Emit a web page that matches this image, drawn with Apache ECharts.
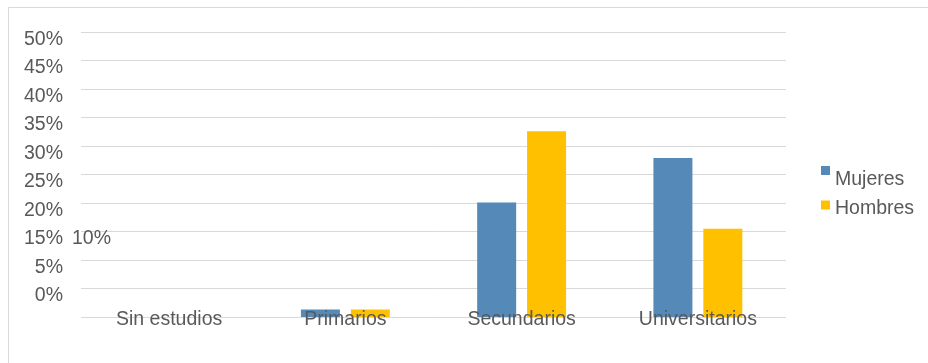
<!DOCTYPE html>
<html>
<head>
<meta charset="utf-8">
<script src="https://cdn.jsdelivr.net/npm/echarts@6/dist/echarts.min.js"></script>
<style>
html,body{margin:0;padding:0;background:#fff;}
#chart{width:928px;height:363px;}
</style>
</head>
<body>
<div id="chart"></div>
<script>
const categories = ['Sin estudios', 'Primarios', 'Secundarios', 'Universitarios'];
const mujeres = [0, 1.3, 20.1, 27.9];
const hombres = [0, 1.3, 32.6, 15.5];
// tick labels as printed in the reference (shifted), keyed by tick value
const yTickValues = [0, 5, 10, 15, 20, 25, 30, 35, 40, 45, 50];
const yTickLabels = ['', '0%', '5%', '15%', '20%', '25%', '30%', '35%', '40%', '45%', '50%'];
const yExtraTickLabels = ['', '', '', '10%', '', '', '', '', '', '', ''];

const FONT = 'Arial, "Liberation Sans", sans-serif';
const TXT = '#595959';

function labelFor(arr) {
  return function (v) {
    const i = yTickValues.indexOf(Math.round(v));
    return i >= 0 ? arr[i] : '';
  };
}

const chart = echarts.init(document.getElementById('chart'), null, {renderer: 'canvas'});
chart.setOption({
  animation: false,
  backgroundColor: '#fff',
  graphic: [{
    type: 'rect', z: -10, silent: true,
    shape: {x: 8.5, y: 7.5, width: 1000, height: 400},
    style: {fill: 'none', stroke: '#d9d9d9', lineWidth: 1}
  }],
  grid: {left: 81, right: 142, top: 32, bottom: 46},
  legend: [
    {
      data: ['Mujeres'], left: 821, top: 151, padding: 0,
      itemWidth: 9, itemHeight: 9, icon: 'rect',
      formatter: '{t|{name}}',
      textStyle: {fontFamily: FONT, fontSize: 19.5, color: TXT,
        rich: {t: {fontFamily: FONT, fontSize: 19.5, color: TXT, lineHeight: 20, padding: [19, 0, 0, 0]}}}
    },
    {
      data: ['Hombres'], left: 821, top: 191, padding: 0,
      itemWidth: 9, itemHeight: 9, icon: 'rect',
      formatter: '{t|{name}}',
      textStyle: {fontFamily: FONT, fontSize: 19.5, color: TXT,
        rich: {t: {fontFamily: FONT, fontSize: 19.5, color: TXT, lineHeight: 20, padding: [8, 0, 0, 0]}}}
    }
  ],
  xAxis: {
    type: 'category', data: categories, z: 5,
    axisLine: {show: false}, axisTick: {show: false},
    axisLabel: {
      fontFamily: FONT, fontSize: 19.5, color: TXT,
      verticalAlign: 'middle', margin: 3, interval: 0
    }
  },
  yAxis: [
    {
      type: 'value', min: 0, max: 50, interval: 5,
      axisLine: {show: false}, axisTick: {show: false},
      splitLine: {lineStyle: {color: '#d9d9d9', width: 1}},
      axisLabel: {
        fontFamily: FONT, fontSize: 19.5, color: TXT, margin: 18,
        verticalAlign: 'top', lineHeight: 15,
        formatter: labelFor(yTickLabels)
      }
    },
    {
      type: 'value', min: 0, max: 50, interval: 5, position: 'left',
      axisLine: {show: false}, axisTick: {show: false}, splitLine: {show: false},
      axisLabel: {
        fontFamily: FONT, fontSize: 19.5, color: TXT, margin: 9, align: 'left',
        verticalAlign: 'top', lineHeight: 15,
        formatter: labelFor(yExtraTickLabels)
      }
    }
  ],
  series: [
    {name: 'Mujeres', type: 'bar', data: mujeres, barWidth: 39, barGap: '28%', itemStyle: {color: '#5589b8'}},
    {name: 'Hombres', type: 'bar', data: hombres, barWidth: 39, barGap: '28%', itemStyle: {color: '#ffc000'}}
  ]
});
</script>
</body>
</html>
